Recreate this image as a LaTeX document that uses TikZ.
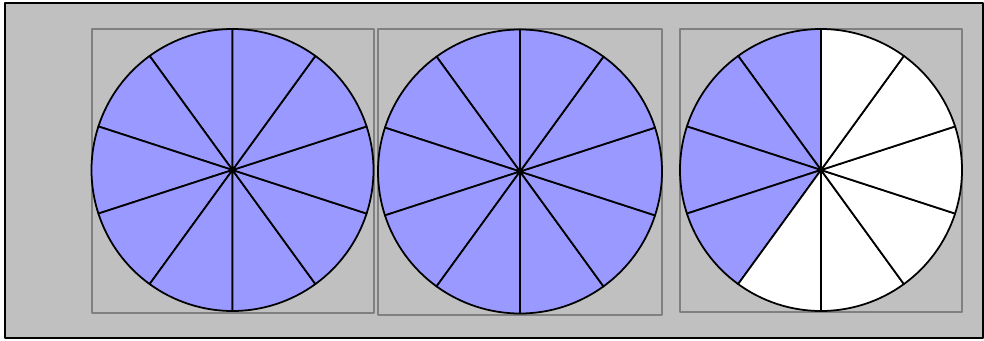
\documentclass[tikz,border=0pt]{standalone}
\usetikzlibrary{calc}
\definecolor{bgcol}{HTML}{C0C0C0}
\definecolor{pcol}{HTML}{9999FF}
\definecolor{gcol}{HTML}{808080}
\begin{document}
\begin{tikzpicture}[line join=round,
  slice/.style={draw=black,line width=1pt},
  frame/.style={draw=gcol,line width=1pt}]
\useasboundingbox (0,0) rectangle (19.68,6.8);
\draw[black,line width=1.2pt,fill=bgcol] (0.1,0.04) rectangle (19.66,6.74);
% frames round the three wheels
\draw[frame] (1.84,0.54) rectangle (7.48,6.22);
\draw[frame] (7.56,0.50) rectangle (13.24,6.22);
\draw[frame] (13.60,0.56) rectangle (19.24,6.22);
\coordinate (c1) at (4.65,3.40);
\coordinate (c2) at (10.40,3.37);
\coordinate (c3) at (16.42,3.40);
% wheel 1: all ten parts
\foreach \a in {0,...,9}
  \filldraw[slice,fill=pcol] (c1) -- +(90+36*\a:2.82) arc[start angle=90+36*\a,delta angle=36,radius=2.82] -- cycle;
% wheel 2: all ten parts
\foreach \a in {0,...,9}
  \filldraw[slice,fill=pcol] (c2) -- +(90+36*\a:2.84) arc[start angle=90+36*\a,delta angle=36,radius=2.84] -- cycle;
% wheel 3: four parts of ten
\foreach \a/\f in {0/pcol,1/pcol,2/pcol,3/pcol,4/white,5/white,6/white,7/white,8/white,9/white}
  \filldraw[slice,fill=\f] (c3) -- +(90+36*\a:2.82) arc[start angle=90+36*\a,delta angle=36,radius=2.82] -- cycle;
\end{tikzpicture}
\end{document}
